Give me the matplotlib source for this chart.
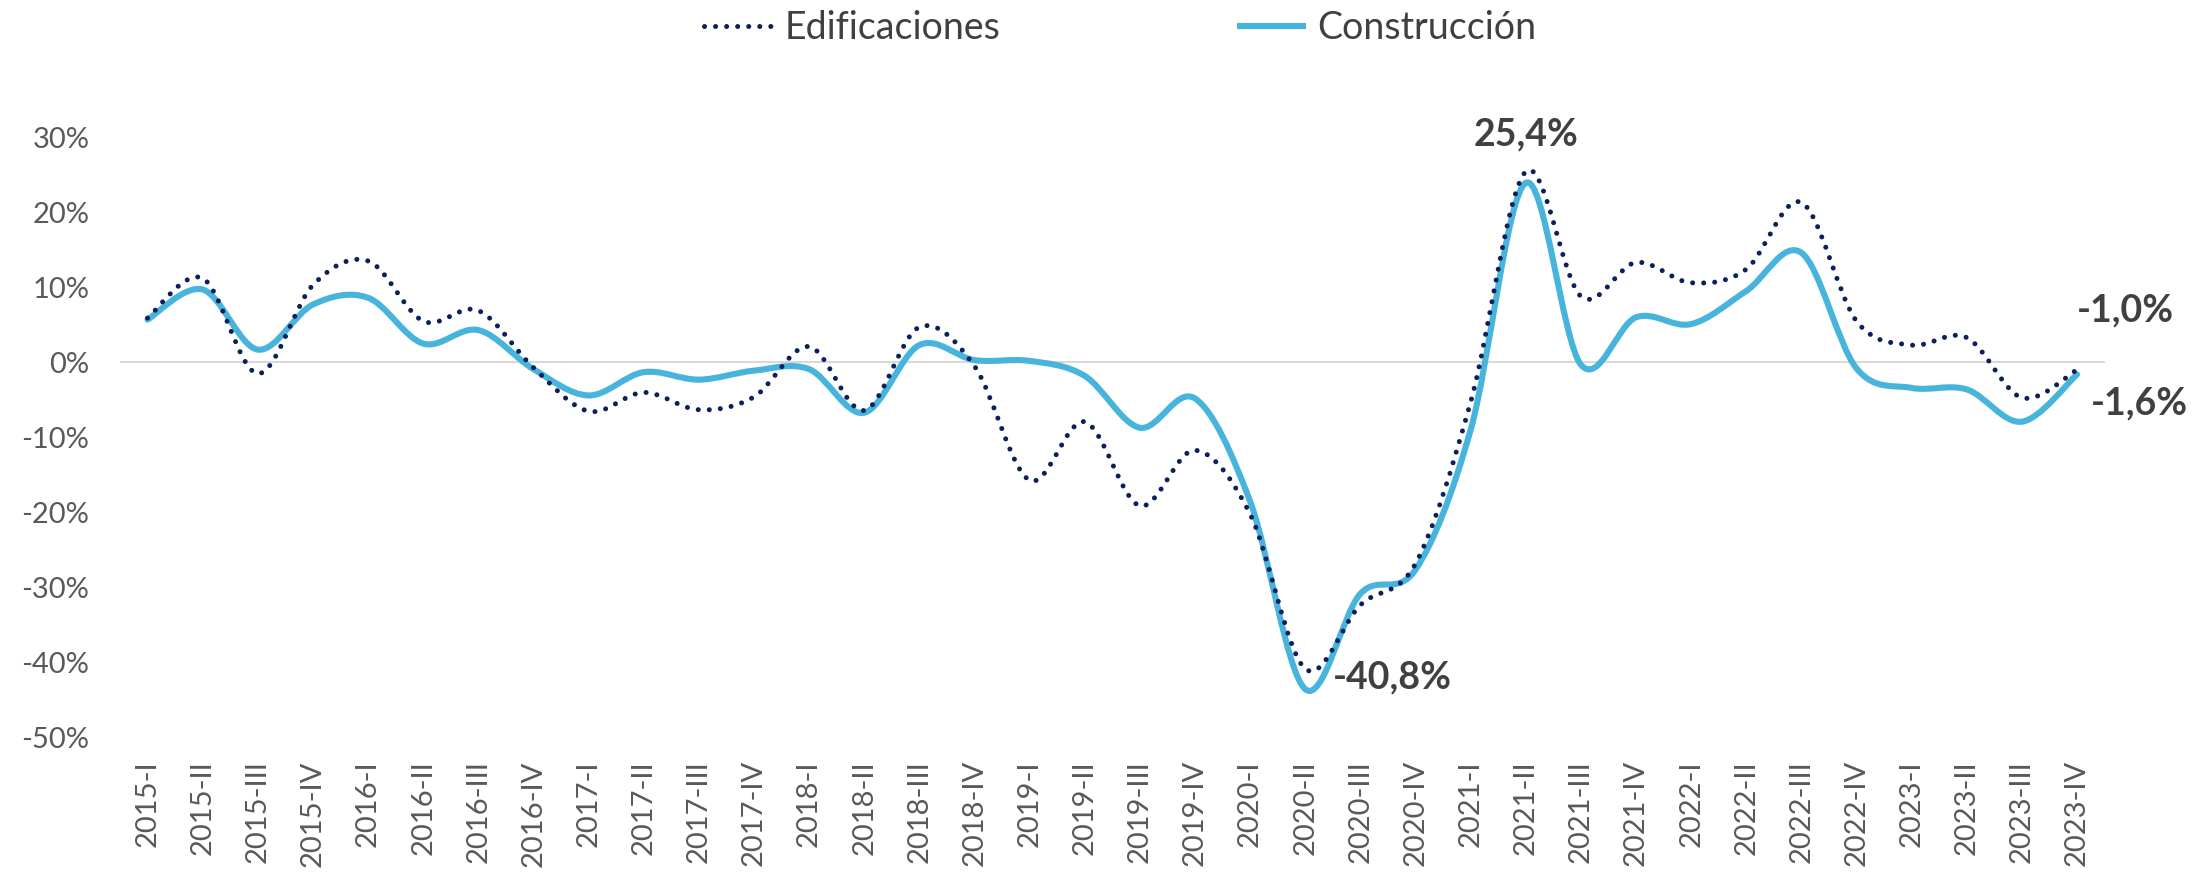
import matplotlib
matplotlib.use("Agg")
import matplotlib.pyplot as plt
from matplotlib.path import Path
from matplotlib.patches import PathPatch
from matplotlib.lines import Line2D
from matplotlib.ticker import FuncFormatter

# Quarters shown on the x axis
years = [2015, 2016, 2017, 2018, 2019, 2020, 2021, 2022, 2023]
quarters = ["I", "II", "III", "IV"]
labels = [f"{y}-{q}" for y in years for q in quarters]

# Annual variation (%)
edificaciones = [5.9, 11.2, -1.5, 10.3, 13.5, 5.5, 6.9, -0.7, -6.5, -4.0, -6.3, -4.6,
                 2.1, -6.4, 4.7, -0.5, -15.7, -7.9, -19.1, -11.7, -20.2, -40.8, -32.3, -26.8,
                 -5.3, 25.4, 8.8, 13.3, 10.6, 12.4, 21.3, 5.5, 2.3, 3.3, -4.7, -1.0]
construccion = [5.7, 9.7, 1.7, 7.7, 8.6, 2.5, 4.3, -0.9, -4.4, -1.3, -2.3, -1.1,
                -0.9, -6.7, 2.3, 0.3, 0.2, -1.8, -8.7, -4.8, -18.5, -43.5, -30.8, -27.6,
                -9.0, 23.9, -0.3, 6.0, 5.1, 9.5, 14.6, -0.8, -3.4, -3.6, -7.9, -1.6]

# Labelled values: series, index, text, offset (points), alignment
label_points = [
    ("edif", 25, "25,4%", (0, 27), "center", "center"),
    ("edif", 21, "-40,8%", (20, -6), "left", "center"),
    ("edif", 35, "-1,0%", (0, 43), "left", "center"),
    ("cons", 35, "-1,6%", (10, -21), "left", "center"),
]

NAVY = "#0A1F5C"
SKY = "#47B4DC"
GREY = "#595959"
DOTS = (0, (0.01, 2.2))


def smooth_path(xs, ys):
    # Bezier path through every knot, like Excel's "smoothed line"
    pts = list(zip(xs, ys))
    n = len(pts)
    verts = [pts[0]]
    codes = [Path.MOVETO]
    for i in range(n - 1):
        p0 = pts[max(i - 1, 0)]
        p1 = pts[i]
        p2 = pts[i + 1]
        p3 = pts[min(i + 2, n - 1)]
        c1 = (p1[0] + (p2[0] - p0[0]) / 6, p1[1] + (p2[1] - p0[1]) / 6)
        c2 = (p2[0] - (p3[0] - p1[0]) / 6, p2[1] - (p3[1] - p1[1]) / 6)
        verts += [c1, c2, p2]
        codes += [Path.CURVE4] * 3
    return Path(verts, codes)


def main():
    plt.rcParams['font.family'] = ['Lato', 'DejaVu Sans']
    fig = plt.figure(figsize=(22.1, 8.75), dpi=100)
    ax = fig.add_axes([0.0543, 0.1566, 0.898, 0.6868])

    x = list(range(len(labels)))

    # zero line only
    ax.axhline(0, color="#D9D9D9", lw=1.5, zorder=1)

    edif_patch = PathPatch(smooth_path(x, edificaciones), fill=False, edgecolor=NAVY,
                           lw=3.6, linestyle=DOTS, capstyle="round", zorder=3)
    cons_patch = PathPatch(smooth_path(x, construccion), fill=False, edgecolor=SKY,
                           lw=4.4, capstyle="round", joinstyle="round", zorder=2)
    ax.add_patch(edif_patch)
    ax.add_patch(cons_patch)

    ax.set_xlim(-0.5, len(labels) - 0.5)
    ax.set_ylim(-50, 30)
    ax.set_yticks(range(-50, 31, 10))
    ax.yaxis.set_major_formatter(FuncFormatter(lambda v, p: f"{v:.0f}%"))
    ax.set_xticks(x)
    ax.set_xticklabels(labels, rotation=90, va="top")
    ax.tick_params(axis="x", length=0, pad=16, labelsize=21, labelcolor=GREY)
    ax.tick_params(axis="y", length=0, pad=22, labelsize=21, labelcolor=GREY)
    for s in ax.spines.values():
        s.set_visible(False)

    # value labels
    series = {"edif": edificaciones, "cons": construccion}
    for key, i, txt, off, ha, va in label_points:
        ax.annotate(txt, xy=(i, series[key][i]), xytext=off, textcoords="offset points",
                    ha=ha, va=va, fontsize=27, fontweight="bold", color="#404040")

    handles = [
        Line2D([], [], color=NAVY, lw=3.6, linestyle=DOTS, dash_capstyle="round"),
        Line2D([], [], color=SKY, lw=4.4, solid_capstyle="butt"),
    ]
    fig.legend(handles, ["Edificaciones", "Construcción"], loc="center",
               bbox_to_anchor=(0.507, 0.968), ncol=2, frameon=False,
               handlelength=1.85, handletextpad=0.3, columnspacing=6.3,
               prop={"size": 27}, labelcolor="#404040")

    fig.savefig("out.png", dpi=100)


if __name__ == '__main__':
    main()
